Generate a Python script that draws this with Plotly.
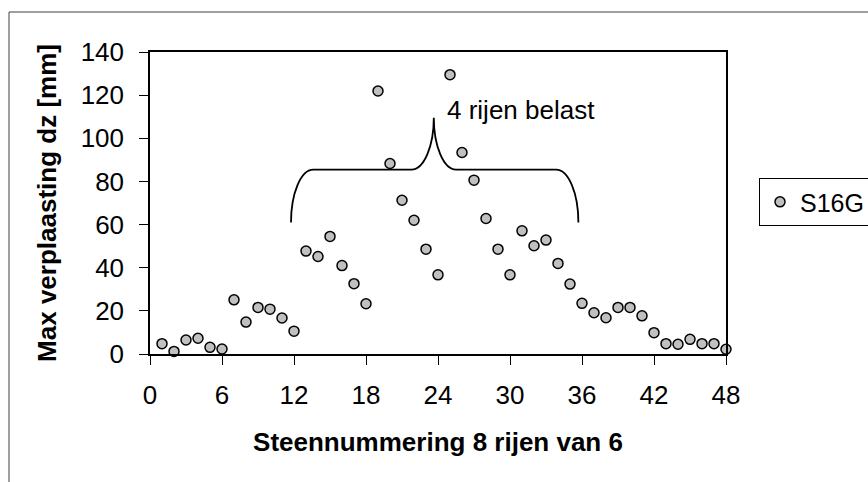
import plotly.graph_objects as go

# Stone numbering (8 rows of 6 stones) and maximum vertical displacement dz [mm]
steen = list(range(1, 49))
dz_s16g = [
    4.8, 1.2, 6.5, 7.3, 3.1, 2.3,
    25.1, 14.8, 21.6, 20.8, 16.7, 10.6,
    47.7, 45.2, 54.5, 41.0, 32.6, 23.3,
    121.9, 88.3, 71.3, 62.0, 48.6, 36.7,
    129.5, 93.4, 80.6, 62.8, 48.6, 36.7,
    57.1, 50.2, 52.8, 42.0, 32.4, 23.5,
    19.1, 16.8, 21.6, 21.6, 17.7, 9.9,
    4.8, 4.5, 6.8, 4.8, 4.8, 2.2,
]
x_ticks = [0, 6, 12, 18, 24, 30, 36, 42, 48]
y_ticks = [0, 20, 40, 60, 80, 100, 120, 140]

series_name = "S16G"
x_title = "Steennummering 8 rijen van 6"
y_title = "Max verplaasting dz [mm]"
brace_label = "4 rijen belast"

# Curly brace spanning the loaded rows (stones 12..36)
brace_left, brace_right = 11.75, 35.7
brace_mid = 23.65
brace_foot, brace_level, brace_peak = 61.0, 85.5, 109.5

FONT = "Liberation Sans, Arial, sans-serif"

fig = go.Figure()
fig.add_trace(go.Scatter(
    x=steen, y=dz_s16g, mode="markers", name=series_name,
    marker=dict(symbol="circle", size=10, color="#c0c0c0",
                line=dict(color="black", width=1.5)),
    cliponaxis=False,
))

k = 0.5523
rx_c, ry = 1.85, brace_level - brace_foot
rx_m, ry_m = 1.85, brace_peak - brace_level
path = (
    f"M {brace_left},{brace_foot} "
    f"C {brace_left},{brace_foot + k*ry} {brace_left + rx_c*(1-k)},{brace_level} {brace_left + rx_c},{brace_level} "
    f"L {brace_mid - rx_m},{brace_level} "
    f"C {brace_mid - rx_m + k*rx_m},{brace_level} {brace_mid},{brace_peak - k*ry_m} {brace_mid},{brace_peak} "
    f"C {brace_mid},{brace_peak - k*ry_m} {brace_mid + rx_m - k*rx_m},{brace_level} {brace_mid + rx_m},{brace_level} "
    f"L {brace_right - rx_c},{brace_level} "
    f"C {brace_right - rx_c*(1-k)},{brace_level} {brace_right},{brace_foot + k*ry} {brace_right},{brace_foot}"
)
fig.add_shape(type="path", path=path, xref="x", yref="y",
              line=dict(color="black", width=1.8))

fig.add_annotation(x=24.6, y=113, xref="x", yref="y", text=brace_label,
                   showarrow=False, xanchor="left", yanchor="middle",
                   font=dict(family=FONT, size=26, color="black"))

# Outer chart frame
fig.add_shape(type="rect", xref="paper", yref="paper",
              x0=(9 - 150) / 576, x1=1.3, y0=-0.5, y1=1 + 40 / 302,
              line=dict(color="#404040", width=1), fillcolor="rgba(0,0,0,0)",
              layer="below")

axis_common = dict(
    showgrid=False, zeroline=False, showline=True, mirror=True,
    linecolor="black", linewidth=1.5,
    ticks="outside", ticklen=9, tickwidth=1, tickcolor="black",
    tickfont=dict(family=FONT, size=26, color="black"),
    automargin=False,
)

fig.update_layout(
    width=868, height=482,
    margin=dict(l=150, r=142, t=52, b=128, autoexpand=False),
    paper_bgcolor="white", plot_bgcolor="white",
    font=dict(family=FONT, color="black"),
    xaxis=dict(range=[0, 48], tickvals=x_ticks, ticklabelstandoff=8,
               title=dict(text=f"<b>{x_title}</b>", standoff=24,
                          font=dict(family=FONT, size=26, color="black")),
               **axis_common),
    yaxis=dict(range=[0, 140], tickvals=y_ticks, ticklabelstandoff=10,
               title=dict(text=f"<b>{y_title}</b>", standoff=17,
                          font=dict(family=FONT, size=26, color="black")),
               **axis_common),
    showlegend=True,
    legend=dict(x=(759 - 150) / 576, xanchor="left", y=0.503, yanchor="middle",
                bordercolor="black", borderwidth=1, bgcolor="white",
                font=dict(family=FONT, size=25, color="black"),
                itemwidth=30),
)

fig.write_html("out.html")
